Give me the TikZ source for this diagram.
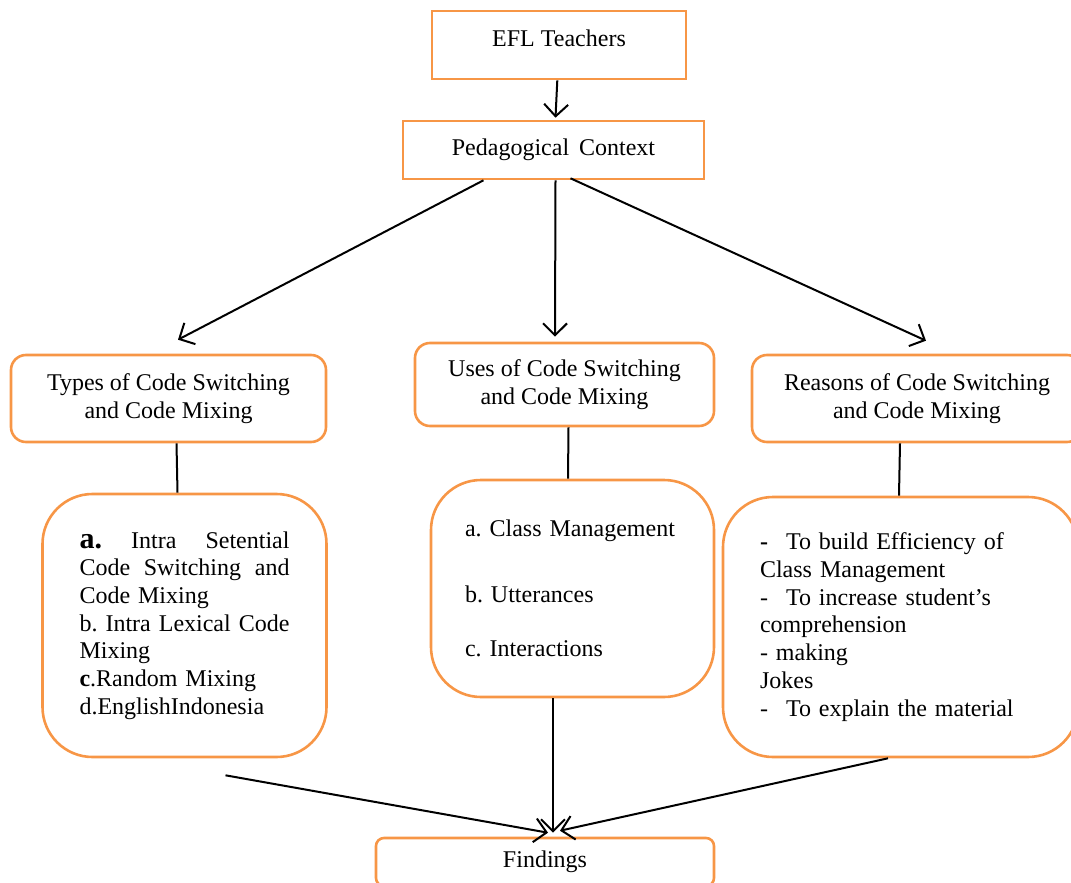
\documentclass[tikz,border=0pt]{standalone}
\usepackage{fontspec}
\setmainfont{Liberation Serif}
\usetikzlibrary{arrows.meta}
\definecolor{boxorange}{HTML}{F79646}
\frenchspacing

\begin{document}
\begin{tikzpicture}[x=0.5pt, y=-0.5pt,
    every node/.style = {font=\fontsize{12}{13.85}\selectfont},
    headbox/.style = {draw=boxorange, line width=1.3pt, align=center},
    topicbox/.style = {headbox, rounded corners=7.5pt},
    listbox/.style = {draw=boxorange, line width=1.3pt, rounded corners=25pt, align=left},
    arr/.style = {-{Straight Barb[length=6pt, width=12pt]}, line width=1pt}]
    \clip (0,0) rectangle (1071,883);

    \node[headbox, minimum width=127pt, minimum height=34pt, text depth=7pt] (efl) at (559,45) {EFL Teachers};
    \node[headbox, minimum width=150.5pt, minimum height=29pt] (ped) at (553.5,150) {Pedagogical\, Context};

    \node[topicbox, minimum width=157.5pt, minimum height=43.5pt] (types) at (168.5,398.5) {Types of Code Switching\\and Code Mixing};
    \node[topicbox, minimum width=149.5pt, minimum height=41.5pt] (uses) at (564.5,384.5) {Uses of Code Switching\\and Code Mixing};
    \node[topicbox, minimum width=165pt, minimum height=43.5pt] (reasons) at (917,398.5) {Reasons of Code Switching\\and Code Mixing};

    \node[listbox, minimum width=142pt, minimum height=131.5pt, text width=105pt] (typesList) at (184.5,625.5) {%
      \makebox[105pt]{{\fontsize{15}{16}\selectfont\textbf{a.}}\hfill Intra\hfill Setential}\\
      \makebox[105pt]{Code\hfill Switching\hfill and}\\
      Code Mixing\\
      \makebox[105pt]{b.\hfill Intra\hfill Lexical\hfill Code}\\
      Mixing\\
      \textbf{c}.Random Mixing\\
      d.EnglishIndonesia};
    \node[listbox, minimum width=141.5pt, minimum height=108.5pt, text width=107.5pt] (usesList) at (572.5,588.5) {%
      a. Class Management\\[19pt]
      b. Utterances\\[13.5pt]
      c. Interactions};
    \node[listbox, minimum width=177.5pt, minimum height=130pt, text width=140.5pt] (reasonsList) at (900.5,627) {%
      \textbf{-}\hspace{9pt}To build Efficiency of\\
      Class Management\\
      -\hspace{9pt}To increase student’s\\
      comprehension\\
      - making\\
      Jokes\\
      -\hspace{9pt}To explain the material};

    \node[headbox, rounded corners=4pt, minimum width=169pt, minimum height=24pt] (findings) at (545,862) {Findings};

    \path[arr] (efl) edge ([xshift=1pt, yshift=1pt]ped.north);
    \path[arr] ([xshift=-35pt]ped.south) edge ([xshift=4.75pt, yshift=7pt]types.north);
    \path[arr] ([xshift=1pt]ped.south) edge ([xshift=-4.75pt, yshift=2.5pt]uses.north);
    \path[arr] ([xshift=8.5pt, yshift=1pt]ped.south) edge ([xshift=4.5pt, yshift=6.5pt]reasons.north);

    \draw[line width=1pt] ([xshift=4pt]types.south) -- ([xshift=-3.5pt]typesList.north);
    \draw[line width=1pt] ([xshift=2pt]uses.south) -- ([xshift=-2.25pt]usesList.north);
    \draw[line width=1pt] ([xshift=-8.5pt]reasons.south) -- ([xshift=-0.75pt]reasonsList.north);

    \path[arr] ([xshift=20.5pt, yshift=-8.5pt]typesList.south) edge ([xshift=1.5pt, yshift=2pt]findings.north);
    \path[arr] ([xshift=-9.75pt]usesList.south) edge ([xshift=4pt, yshift=2pt]findings.north);
    \path[arr] ([xshift=-6.25pt]reasonsList.south) edge ([xshift=7.5pt, yshift=3pt]findings.north);
\end{tikzpicture}
\end{document}
